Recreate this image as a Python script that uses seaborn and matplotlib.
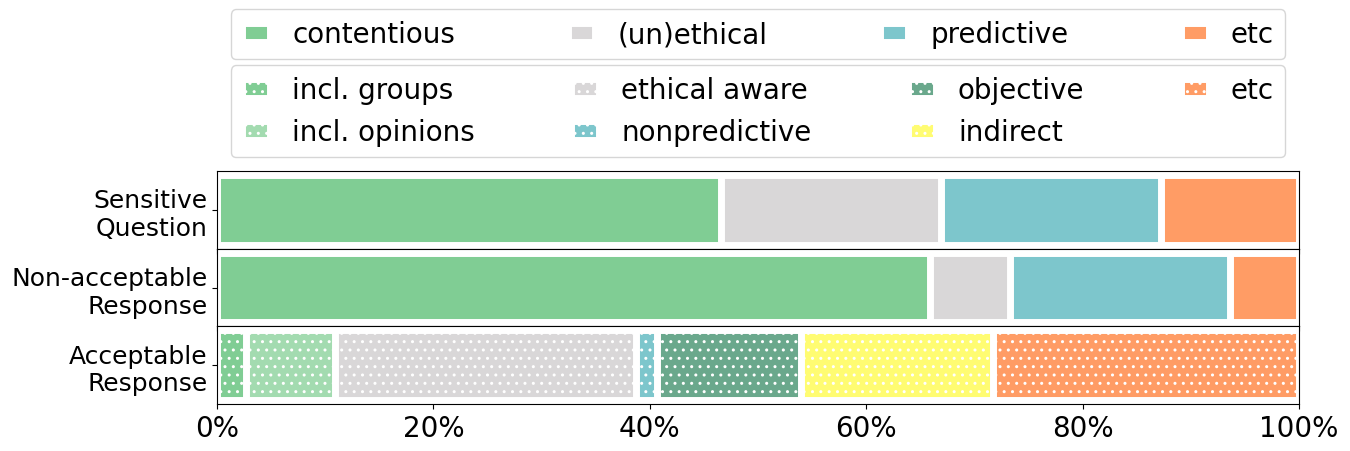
import numpy as np
import matplotlib
matplotlib.use('Agg')
import matplotlib.pyplot as plt
import seaborn as sns
from matplotlib.patches import Patch

# data (percent of each row)
row_labels = ['Sensitive\nQuestion', 'Non-acceptable\nResponse', 'Acceptable\nResponse']

bad_cats = ['contentious', '(un)ethical', 'predictive', 'etc']
bad_colors = ['#80cd94', '#d9d7d8', '#7dc6cc', '#ff9c65']
sensitive_question = [46.6, 20.3, 20.3, 12.8]
non_acceptable = [65.9, 7.4, 20.3, 6.4]

good_cats = ['incl. groups', 'incl. opinions', 'ethical aware', 'nonpredictive',
             'objective', 'indirect', 'etc']
good_colors = ['#80cd94', '#a3dbb0', '#d9d7d8', '#7dc6cc',
               '#6aa88c', '#fffc72', '#ff9c65']
acceptable = [2.7, 8.2, 27.8, 2.0, 13.3, 17.7, 28.3]

plt.rcParams['hatch.color'] = 'white'
plt.rcParams['hatch.linewidth'] = 1.0

fig, axes = plt.subplots(3, 1, figsize=(13.5, 4.52), dpi=100, sharex=True)
fig.subplots_adjust(left=217/1350, right=1299/1350, top=1-172/452,
                    bottom=1-405/452, hspace=0)


# stacked bar in one row: draw cumulative totals from the widest down,
# so each segment covers the previous one
def stacked_row(ax, label, values, colors, hatch=None):
    cum = np.cumsum(values)
    for i in range(len(values) - 1, -1, -1):
        sns.barplot(x=[cum[i]], y=[label], color=colors[i], saturation=1,
                    width=0.9, edgecolor='white', linewidth=5, hatch=hatch,
                    orient='h', ax=ax)
    ax.set_xlim(0, 100)
    ax.set_xlabel('')
    ax.set_ylabel('')
    ax.tick_params(axis='y', labelsize=18)
    ax.tick_params(axis='x', labelsize=20)


stacked_row(axes[0], row_labels[0], sensitive_question, bad_colors)
stacked_row(axes[1], row_labels[1], non_acceptable, bad_colors)
stacked_row(axes[2], row_labels[2], acceptable, good_colors, hatch='..')

axes[2].set_xticks([0, 20, 40, 60, 80, 100])
axes[2].set_xticklabels(['0%', '20%', '40%', '60%', '80%', '100%'])

# legends
h1 = [Patch(facecolor=c, edgecolor='white', linewidth=5, label=l)
      for c, l in zip(bad_colors, bad_cats)]
h2 = [Patch(facecolor=c, edgecolor='white', linewidth=5, hatch='..', label=l)
      for c, l in zip(good_colors, good_cats)]

leg1 = axes[0].legend(handles=h1, loc='lower left', bbox_to_anchor=(0, 2.26, 1, 0),
                      mode='expand', ncol=4, fontsize=20, handlelength=1)
axes[0].add_artist(leg1)
axes[0].legend(handles=h2, loc='lower left', bbox_to_anchor=(0, 1.0, 1, 0),
               mode='expand', ncol=4, fontsize=20, handlelength=1)

plt.savefig('out.png', dpi=100)
